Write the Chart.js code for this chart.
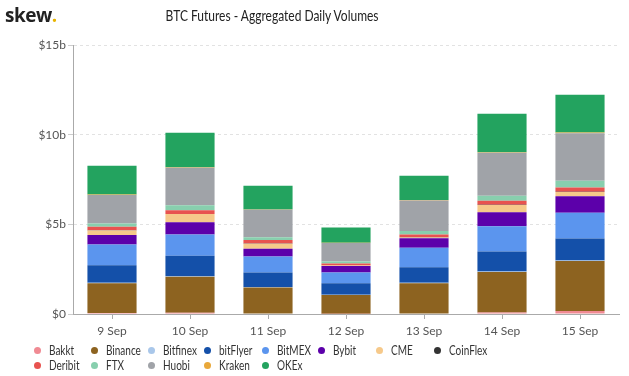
<!DOCTYPE html>
<html>
<head>
<meta charset="utf-8">
<script src="https://cdn.jsdelivr.net/npm/chart.js@4/dist/chart.umd.min.js"></script>
<style>
  body { margin: 0; background: #fff; font-family: Lato, sans-serif; }
  #wrap { position: relative; width: 629px; height: 376px; overflow: hidden; }
  #chart { position: absolute; left: 0; top: 0; }
  #logo { position: absolute; left: 5px; top: 2px; font: bold 19px "Open Sans", sans-serif; color: #222; letter-spacing: -0.5px; }
  #logo span { color: #e8b400; }
  #title { position: absolute; left: 0; width: 545px; top: 5px; text-align: center; }
  #title span { display: inline-block; font: 15px Lato, sans-serif; color: #222; transform: scaleX(0.8); }
  .lg { position: absolute; font: 13px Lato, sans-serif; color: #333; white-space: nowrap; line-height: 14px; }
  .lg span { display: inline-block; transform: scaleX(0.77); transform-origin: left center; }
  .lg i { position: absolute; left: -15px; top: 4px; width: 7px; height: 7px; border-radius: 50%; }
</style>
</head>
<body>
<div id="wrap">
  <canvas id="chart" width="629" height="376"></canvas>
  <div id="logo">skew<span>.</span></div>
  <div id="title"><span>BTC Futures - Aggregated Daily Volumes</span></div>
  <div id="legend"></div>
</div>
<script>
// daily volumes in $ billions
const days = ["9 Sep", "10 Sep", "11 Sep", "12 Sep", "13 Sep", "14 Sep", "15 Sep"];
const exchanges = ["Bakkt", "Binance", "Bitfinex", "bitFlyer", "BitMEX", "Bybit", "CME", "CoinFlex", "Deribit", "FTX", "Huobi", "Kraken", "OKEx"];
const colors = ["#f08a93", "#8d6320", "#a9c7ea", "#1450a9", "#5b95ee", "#5c00aa", "#f6c98a", "#333333", "#e8534f", "#88cfae", "#a0a3a8", "#e9a83a", "#23a35f"];

const bakkt    = [0.05, 0.07, 0.03, 0.02, 0.03, 0.09, 0.17];
const binance  = [1.66, 2.01, 1.45, 1.04, 1.69, 2.25, 2.78];
const bitfinex = [0.03, 0.03, 0.02, 0.02, 0.02, 0.03, 0.03];
const bitflyer = [0.98, 1.14, 0.82, 0.63, 0.86, 1.12, 1.23];
const bitmex   = [1.16, 1.19, 0.89, 0.61, 1.10, 1.41, 1.44];
const bybit    = [0.52, 0.67, 0.43, 0.35, 0.52, 0.77, 0.91];
const cme      = [0.26, 0.46, 0.28, 0.03, 0.05, 0.41, 0.24];
const coinflex = [0.01, 0.01, 0.01, 0.01, 0.01, 0.01, 0.01];
const deribit  = [0.20, 0.20, 0.20, 0.11, 0.15, 0.22, 0.25];
const ftx      = [0.18, 0.28, 0.15, 0.11, 0.20, 0.28, 0.37];
const huobi    = [1.58, 2.10, 1.53, 1.03, 1.70, 2.40, 2.65];
const kraken   = [0.03, 0.03, 0.02, 0.02, 0.03, 0.03, 0.04];
const okex     = [1.60, 1.91, 1.32, 0.84, 1.35, 2.14, 2.10];

const series = [bakkt, binance, bitfinex, bitflyer, bitmex, bybit, cme, coinflex, deribit, ftx, huobi, kraken, okex];

// legend, column-aligned in two rows
const legendX = [49, 106, 163, 219, 277, 333, 391, 449];
const legendY = [343, 358];
const legend = document.getElementById("legend");
exchanges.forEach((name, i) => {
  const el = document.createElement("div");
  el.className = "lg";
  el.style.left = legendX[i % 8] + "px";
  el.style.top = legendY[Math.floor(i / 8)] + "px";
  el.innerHTML = '<i style="background:' + colors[i] + '"></i><span>' + name + '</span>';
  legend.appendChild(el);
});

new Chart(document.getElementById("chart"), {
  type: "bar",
  data: {
    labels: days,
    datasets: exchanges.map((name, i) => ({
      label: name,
      data: series[i],
      backgroundColor: colors[i],
      borderWidth: 0,
      categoryPercentage: 1,
      barPercentage: 0.63
    }))
  },
  options: {
    responsive: false,
    animation: false,
    layout: { padding: { left: 0, right: 10, top: 45, bottom: 0 } },
    plugins: {
      legend: { display: false },
      title: { display: false },
      tooltip: { enabled: false }
    },
    scales: {
      x: {
        stacked: true,
        afterFit: s => { s.height = 62; },
        grid: { drawOnChartArea: false, offset: false, tickLength: 5, tickColor: "#aaa" },
        border: { color: "#aaa" },
        ticks: { font: { family: "Lato", size: 12 }, color: "#555", padding: 5, maxRotation: 0 }
      },
      y: {
        stacked: true,
        min: 0,
        max: 15,
        afterFit: s => { s.width = 73; },
        grid: { color: "#e2e2e2", tickColor: "#ccc", tickLength: 5 },
        border: { color: "#aaa", dash: [3, 3] },
        ticks: {
          stepSize: 5,
          padding: 2,
          font: { family: "Lato", size: 12 },
          color: "#555",
          callback: v => v === 0 ? "$0" : "$" + v + "b"
        }
      }
    }
  }
});
</script>
</body>
</html>
